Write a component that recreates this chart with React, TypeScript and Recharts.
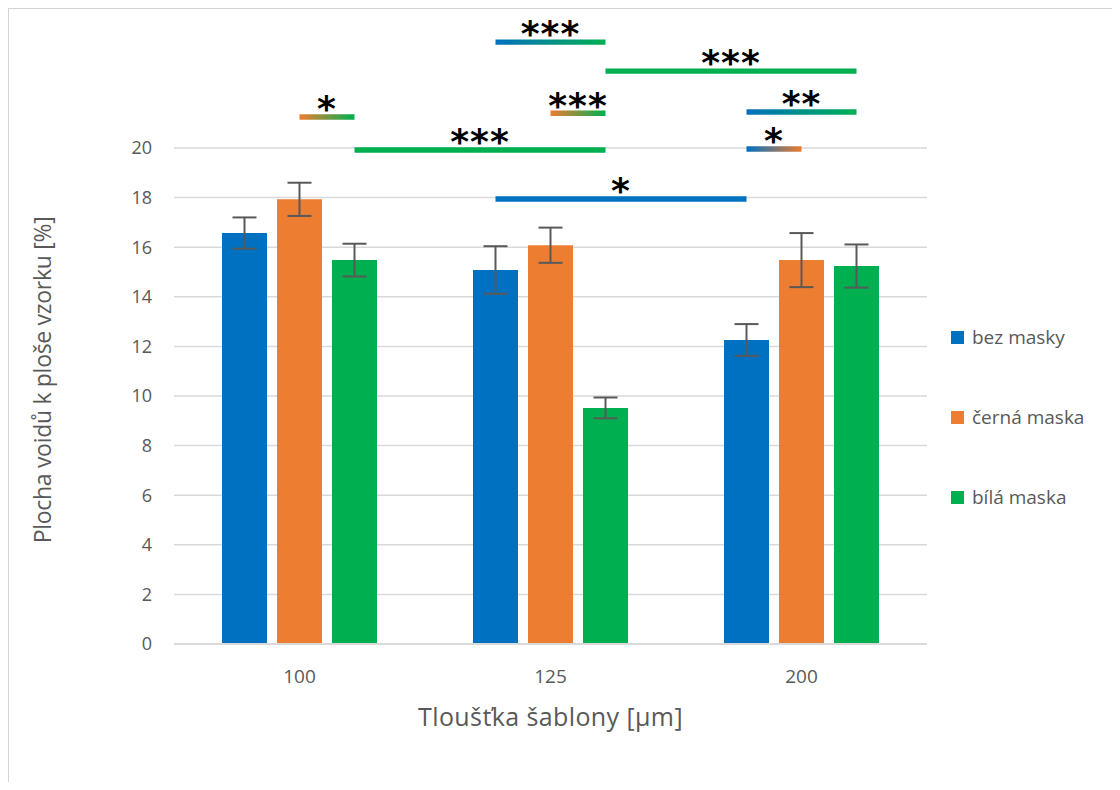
import React from 'react'
import {
  BarChart,
  Bar,
  XAxis,
  YAxis,
  CartesianGrid,
  ErrorBar,
  ReferenceArea,
} from 'recharts'

// thickness of the stencil [µm]
const categories = ['100', '125', '200']

// void area relative to sample area [%], mean and error
const bezMasky = [16.57, 15.08, 12.26]
const bezMaskyErr = [0.63, 0.96, 0.64]
const cernaMaska = [17.93, 16.08, 15.48]
const cernaMaskaErr = [0.67, 0.71, 1.09]
const bilaMaska = [15.48, 9.52, 15.24]
const bilaMaskaErr = [0.66, 0.42, 0.87]

const yTicks = [0, 2, 4, 6, 8, 10, 12, 14, 16, 18, 20]

// significance brackets: [category index, series key] -> [category index, series key]
type SeriesKey = 'bez' | 'cerna' | 'bila'
type Comparison = { from: [number, SeriesKey]; to: [number, SeriesKey]; y: number; stars: string }
const comparisons: Comparison[] = [
  { from: [0, 'cerna'], to: [0, 'bila'], y: 21.25, stars: '*' },
  { from: [0, 'bila'], to: [1, 'bila'], y: 19.92, stars: '***' },
  { from: [1, 'bez'], to: [1, 'bila'], y: 24.27, stars: '***' },
  { from: [1, 'bila'], to: [2, 'bila'], y: 23.1, stars: '***' },
  { from: [1, 'cerna'], to: [1, 'bila'], y: 21.4, stars: '***' },
  { from: [2, 'bez'], to: [2, 'bila'], y: 21.45, stars: '**' },
  { from: [2, 'bez'], to: [2, 'cerna'], y: 19.96, stars: '*' },
  { from: [1, 'bez'], to: [2, 'bez'], y: 17.94, stars: '*' },
]

const series: { key: SeriesKey; name: string; color: string }[] = [
  { key: 'bez', name: 'bez masky', color: '#0070C0' },
  { key: 'cerna', name: 'černá maska', color: '#ED7D31' },
  { key: 'bila', name: 'bílá maska', color: '#00B050' },
]

// pos = centre of each category band in band units, used by the bracket axis
const data = categories.map((cat, i) => ({
  cat,
  pos: i + 0.5,
  bez: bezMasky[i],
  bezErr: bezMaskyErr[i],
  cerna: cernaMaska[i],
  cernaErr: cernaMaskaErr[i],
  bila: bilaMaska[i],
  bilaErr: bilaMaskaErr[i],
}))

const W = 1120
const H = 790
const MARGIN = { top: 24, right: 193, bottom: 0, left: 0 }
const Y_AXIS_W = 174
const X_AXIS_H = 146
const BAR_SIZE = 45
const BAR_GAP = 10
const PLOT_W = W - MARGIN.left - MARGIN.right - Y_AXIS_W
const BAND = PLOT_W / categories.length

const GREY = '#595959'
const FONT = '"Open Sans", "Noto Sans", sans-serif'

// position of a bar's centre in band units (for the hidden numeric axis)
function barX(cat: number, key: SeriesKey) {
  const idx = series.findIndex((s) => s.key === key)
  return cat + 0.5 + ((idx - 1) * (BAR_SIZE + BAR_GAP)) / BAND
}

function colorOf(key: SeriesKey) {
  return series.find((s) => s.key === key)!.color
}

function fillFor(c: Comparison) {
  if (c.from[1] === c.to[1]) return colorOf(c.from[1])
  return `url(#grad-${c.from[1]}-${c.to[1]})`
}

const StarLabel = ({ viewBox, text }: any) => {
  if (!viewBox) return null
  const { x, y, width } = viewBox
  return (
    <text
      x={x + width / 2}
      y={y + 7}
      textAnchor="middle"
      fill="#000"
      fontSize={36}
      fontWeight="bold"
      fontFamily='"DejaVu Sans", sans-serif'
      letterSpacing={1}
    >
      {text}
    </text>
  )
}

const YTitle = () => (
  <text
    x={42}
    y={380}
    transform="rotate(-90 42 380)"
    textAnchor="middle"
    dominantBaseline="central"
    fill={GREY}
    fontSize={23}
    fontFamily={FONT}
    letterSpacing={-0.3}
  >
    Plocha voidů k ploše vzorku [%]
  </text>
)

export default function App() {
  const gradPairs = Array.from(
    new Set(comparisons.filter((c) => c.from[1] !== c.to[1]).map((c) => `${c.from[1]}-${c.to[1]}`))
  )

  return (
    <div style={{ position: 'relative', width: W, height: H, margin: -8, background: '#fff', fontFamily: FONT }}>
      <div style={{ position: 'absolute', left: 0, top: 0 }}>
        <BarChart
          width={W}
          height={H}
          data={data}
          margin={MARGIN}
          barSize={BAR_SIZE}
          barGap={BAR_GAP}
        >
          <defs>
            {gradPairs.map((p) => {
              const [a, b] = p.split('-') as SeriesKey[]
              return (
                <linearGradient key={p} id={`grad-${p}`} x1="0" y1="0" x2="1" y2="0">
                  <stop offset="0%" stopColor={colorOf(a)} />
                  <stop offset="100%" stopColor={colorOf(b)} />
                </linearGradient>
              )
            })}
          </defs>
          <CartesianGrid vertical={false} horizontalValues={yTicks} stroke="#d9d9d9" strokeWidth={1.5} />
          <XAxis
            dataKey="cat"
            height={X_AXIS_H}
            axisLine={{ stroke: '#d9d9d9', strokeWidth: 2 }}
            tickLine={false}
            tickMargin={20}
            tick={{ fill: GREY, fontSize: 19, fontFamily: FONT }}
            label={{
              value: 'Tloušťka šablony [µm]',
              position: 'insideTop',
              offset: 64,
              fill: GREY,
              fontSize: 25,
              fontFamily: FONT,
              letterSpacing: 0.4,
            }}
          />
          <XAxis
            xAxisId="sig"
            dataKey="pos"
            type="number"
            domain={[0, categories.length]}
            allowDataOverflow
            hide
          />
          <YAxis
            width={Y_AXIS_W}
            domain={[0, 25]}
            allowDataOverflow
            ticks={yTicks}
            axisLine={false}
            tickLine={false}
            tickMargin={16}
            tick={{ fill: GREY, fontSize: 18, fontFamily: FONT }}
            label={{ content: () => <YTitle /> }}
          />
          {series.map((s) => (
            <Bar key={s.key} dataKey={s.key} name={s.name} fill={s.color} isAnimationActive={false}>
              <ErrorBar
                dataKey={`${s.key}Err`}
                width={12}
                stroke={GREY}
                strokeWidth={2}
                isAnimationActive={false}
              />
            </Bar>
          ))}
          {comparisons.map((c, i) => (
            <ReferenceArea
              key={i}
              xAxisId="sig"
              x1={barX(c.from[0], c.from[1])}
              x2={barX(c.to[0], c.to[1])}
              y1={c.y - 0.11}
              y2={c.y + 0.11}
              fill={fillFor(c)}
              fillOpacity={1}
              stroke="none"
              ifOverflow="visible"
              label={(props: any) => <StarLabel {...props} text={c.stars} />}
            />
          ))}
        </BarChart>
      </div>
      <div style={{ position: 'absolute', left: 951, top: 322 }}>
        {series.map((s) => (
          <div key={s.key} style={{ display: 'flex', alignItems: 'center', height: 30, marginBottom: 50 }}>
            <span style={{ display: 'inline-block', width: 13, height: 13, background: s.color, marginRight: 8 }} />
            <span style={{ color: GREY, fontSize: 19, fontFamily: FONT, lineHeight: '30px' }}>{s.name}</span>
          </div>
        ))}
      </div>
      {/* frame of the chart area */}
      <div
        style={{
          position: 'absolute',
          left: 7,
          top: 7,
          width: W - 7,
          height: H - 7,
          boxSizing: 'border-box',
          borderLeft: '2px solid #d4d4d4',
          borderTop: '2px solid #d4d4d4',
          pointerEvents: 'none',
        }}
      />
    </div>
  )
}
